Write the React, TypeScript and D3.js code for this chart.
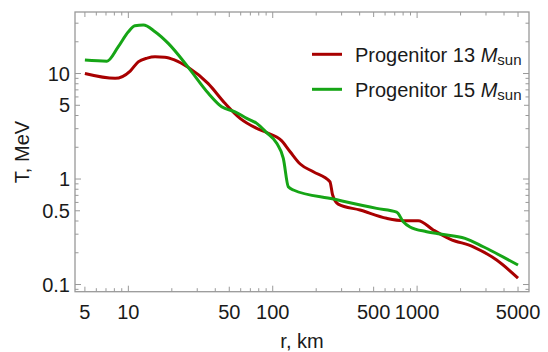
import React from "react";
import * as d3 from "d3";

const r13 = [5, 8.1, 10.3, 11.7, 13.5, 15.3, 17.9, 21, 25.9, 35.6, 46.7, 59.4, 77.5, 90.8, 115, 132, 155, 191, 249, 260, 284, 402, 615, 802, 1018, 1294, 1690, 2450, 3556, 5000];
const T13 = [10.0, 9.0, 10.56, 12.9, 14.0, 14.4, 14.3, 13.4, 11.45, 8.07, 5.22, 3.76, 3.02, 2.75, 2.31, 1.815, 1.387, 1.172, 0.943, 0.705, 0.579, 0.508, 0.424, 0.403, 0.403, 0.329, 0.27, 0.228, 0.1706, 0.115];

const r15 = [5, 7.1, 8.5, 10, 11.1, 12.7, 15.3, 18.9, 26, 35.8, 44.3, 54.8, 66.1, 77.5, 90.8, 106.6, 118.4, 128.2, 139, 263, 525, 722, 802, 893, 1165, 1441, 2148, 2873, 5000];
const T15 = [13.4, 13.1, 17.9, 24.9, 28.4, 28.8, 24.9, 19.3, 11.45, 6.49, 4.84, 4.34, 3.76, 3.37, 2.75, 2.18, 1.57, 0.845, 0.787, 0.646, 0.527, 0.486, 0.394, 0.351, 0.317, 0.301, 0.274, 0.228, 0.153];

const xTickLabels = [5, 10, 50, 100, 500, 1000, 5000];
const yTickLabels = [0.1, 0.5, 1, 5, 10];
const seriesNames = ["13", "15"];
const seriesColors = ["#a80000", "#16a516"];

const W = 548, H = 352;
const L = 75, R = 529, T = 12, B = 291.7;

export default function App() {
  const x = d3.scaleLog().domain([4.27, 5957]).range([L, R]);
  const y = d3.scaleLog().domain([38.3, 0.0855]).range([T, B]);
  const line = d3
    .line<[number, number]>()
    .x((d) => x(d[0]))
    .y((d) => y(d[1]))
    .curve(d3.curveMonotoneX);

  const d13 = r13.map((r, i) => [r, T13[i]] as [number, number]);
  const d15 = r15.map((r, i) => [r, T15[i]] as [number, number]);

  const xt = x.ticks(40).filter((v) => v >= 4.27 && v <= 5957);
  const yt = y.ticks(40).filter((v) => v >= 0.0855 && v <= 38.3);
  const isDecade = (v: number) => Math.abs(Math.log10(v) - Math.round(Math.log10(v))) < 1e-6;
  const tickLen = (v: number, labels: number[]) =>
    labels.some((l) => Math.abs(l - v) / v < 1e-6) ? (isDecade(v) ? 6 : 5) : 3.5;

  const frame = "#999999";
  const font = "'Liberation Sans', Arial, sans-serif";

  return (
    <svg width={W} height={H} style={{ display: "block" }} fontFamily={font}>
      <style>{`body{margin:0}`}</style>
      <rect width={W} height={H} fill="#fff" />
      {/* data */}
      <path d={line(d13) || ""} fill="none" stroke={seriesColors[0]} strokeWidth={3} strokeLinejoin="round" />
      <path d={line(d15) || ""} fill="none" stroke={seriesColors[1]} strokeWidth={3} strokeLinejoin="round" />
      {/* frame */}
      <rect x={L} y={T} width={R - L} height={B - T} fill="none" stroke={frame} strokeWidth={1.3} />
      {xt.map((v, i) => {
        const len = tickLen(v, xTickLabels);
        return (
          <g key={"xt" + i} stroke={frame} strokeWidth={1}>
            <line x1={x(v)} x2={x(v)} y1={B} y2={B - len} />
            <line x1={x(v)} x2={x(v)} y1={T} y2={T + len} />
          </g>
        );
      })}
      {yt.map((v, i) => {
        const len = tickLen(v, yTickLabels);
        return (
          <g key={"yt" + i} stroke={frame} strokeWidth={1}>
            <line x1={L} x2={L + len} y1={y(v)} y2={y(v)} />
            <line x1={R} x2={R - len} y1={y(v)} y2={y(v)} />
          </g>
        );
      })}
      {xTickLabels.map((v) => (
        <text key={"xl" + v} x={x(v)} y={318.5} textAnchor="middle" fontSize={20} fill="#1a1a1a">
          {v}
        </text>
      ))}
      {yTickLabels.map((v) => (
        <text key={"yl" + v} x={70} y={y(v) + 7} textAnchor="end" fontSize={20} fill="#1a1a1a">
          {v}
        </text>
      ))}
      <text x={302} y={348} textAnchor="middle" fontSize={20} fill="#1a1a1a">
        r, km
      </text>
      <text
        transform="translate(29,152) rotate(-90)"
        textAnchor="middle"
        fontSize={20}
        fill="#1a1a1a"
      >
        T, MeV
      </text>
      {seriesNames.map((n, i) => {
        const ly = 54.3 + i * 35;
        return (
          <g key={"lg" + n}>
            <line x1={312} x2={342} y1={ly} y2={ly} stroke={seriesColors[i]} strokeWidth={3} />
            <text x={355} y={ly + 7.5} fontSize={20} fill="#1a1a1a">
              {"Progenitor " + n + " "}
              <tspan fontStyle="italic">M</tspan>
              <tspan fontSize={15} dy={3.5}>sun</tspan>
            </text>
          </g>
        );
      })}
    </svg>
  );
}
